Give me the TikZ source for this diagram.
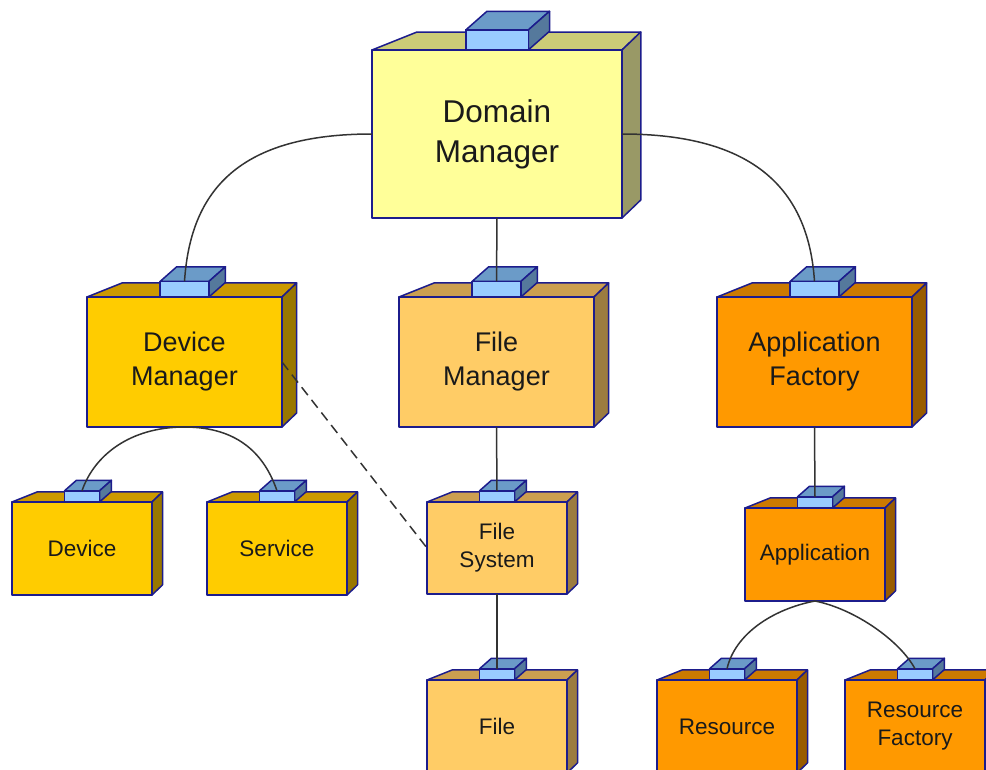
\documentclass[tikz,border=0pt]{standalone}
\usepackage{fontspec}
\setmainfont{Liberation Sans}
\usepackage{tikz}

\definecolor{outline}{HTML}{1C1C8C}
\definecolor{wire}{HTML}{333333}
\definecolor{ink}{HTML}{1A1A1A}
\definecolor{tabfront}{HTML}{99CCFF}
\definecolor{tabtop}{HTML}{6B9BC8}
\definecolor{tabside}{HTML}{55799C}
\definecolor{domfront}{HTML}{FFFF99}
\definecolor{domtop}{HTML}{CCCC77}
\definecolor{domside}{HTML}{999966}
\definecolor{devfront}{HTML}{FFCC00}
\definecolor{devtop}{HTML}{CC9900}
\definecolor{devside}{HTML}{997700}
\definecolor{filfront}{HTML}{FFCC66}
\definecolor{filtop}{HTML}{CC9F50}
\definecolor{filside}{HTML}{9C7C40}
\definecolor{appfront}{HTML}{FF9900}
\definecolor{apptop}{HTML}{CC7A00}
\definecolor{appside}{HTML}{995C00}

\tikzset{
  face/.style={draw=outline,line width=1.5pt,line join=round},
  link/.style={draw=wire,line width=1.5pt},
  dashlink/.style={link,dash pattern=on 10pt off 6pt}
}

% #1 name, #2 centre x, #3 top y, #4 width, #5 height,
% #6 colour prefix, #7 font size, #8 line skip, #9 text
\newcommand{\pkgbox}[9]{%
  \pgfmathsetmacro\pbl{#2-#4/2}
  \pgfmathsetmacro\pbr{#2+#4/2}
  \pgfmathsetmacro\pbb{#3+#5}
  \pgfmathsetmacro\pbdx{0.075*#4}
  \pgfmathsetmacro\pbdy{0.072*#4}
  \pgfmathsetmacro\pbs{0.18*#4}
  \pgfmathsetmacro\ptl{#2-0.125*#4}
  \pgfmathsetmacro\ptr{#2+0.125*#4}
  \pgfmathsetmacro\ptt{#3-0.08*#4}
  \pgfmathsetmacro\ptdx{0.085*#4}
  \pgfmathsetmacro\ptdy{0.075*#4}
  \filldraw[face,fill=#6top] (\pbl,#3) -- (\pbl+\pbs,#3-\pbdy) -- (\pbr+\pbdx,#3-\pbdy) -- (\pbr,#3) -- cycle;
  \filldraw[face,fill=#6side] (\pbr,#3) -- (\pbr+\pbdx,#3-\pbdy) -- (\pbr+\pbdx,\pbb-\pbdy) -- (\pbr,\pbb) -- cycle;
  \node[face,fill=#6front,inner sep=0pt,outer sep=0pt,minimum width=#4,minimum height=#5,
    align=center,text=ink,font=\fontsize{#7}{#8}\selectfont] (#1) at (#2,#3+#5/2) {#9};
  \filldraw[face,fill=tabtop] (\ptl,\ptt) -- (\ptl+\ptdx,\ptt-\ptdy) -- (\ptr+\ptdx,\ptt-\ptdy) -- (\ptr,\ptt) -- cycle;
  \filldraw[face,fill=tabside] (\ptr,\ptt) -- (\ptr+\ptdx,\ptt-\ptdy) -- (\ptr+\ptdx,#3-\ptdy) -- (\ptr,#3) -- cycle;
  \filldraw[face,fill=tabfront] (\ptl,\ptt) rectangle (\ptr,#3);
  \coordinate (#1-tab) at (#2,\ptt);
}

\begin{document}
\begin{tikzpicture}[x=1pt,y=-1pt]
	\useasboundingbox (0,0) rectangle (986,769);
	\fill[white] (0,0) rectangle (986,769);
	\clip (0,0) rectangle (986,769);

	% top level
	\pkgbox{domainmgr}{497}{50}{250}{168}{dom}{31.5}{40}{Domain\\Manager}

	% managers
	\pkgbox{devicemgr}{184.5}{297}{195}{130}{dev}{27}{34}{Device\\Manager}
	\pkgbox{filemgr}{496.5}{297}{195}{130}{fil}{27}{34}{File\\Manager}
	\pkgbox{appfactory}{814.5}{297}{195}{130}{app}{27}{34}{Application\\Factory}

	% lower levels
	\pkgbox{device}{82}{502}{140}{93}{dev}{22.5}{28}{Device}
	\pkgbox{service}{277}{502}{140}{93}{dev}{22.5}{28}{Service}
	\pkgbox{filesys}{497}{502}{140}{92}{fil}{22.5}{28}{File\\System}
	\pkgbox{file}{497}{680}{140}{93}{fil}{22.5}{28}{File}
	\pkgbox{application}{815}{508}{140}{93}{app}{22.5}{28}{Application}
	\pkgbox{resource}{727}{680}{140}{93}{app}{22.5}{28}{Resource}
	\pkgbox{resfactory}{915}{680}{140}{93}{app}{22.5}{28}{Resource\\Factory}

	% connectors
	\draw[link] (domainmgr.west) .. controls +(-132,0) and +(6,-92) .. (devicemgr-tab);
	\draw[link] (domainmgr.east) .. controls +(132,0) and +(-6,-92) .. (appfactory-tab);
	\draw[link] (domainmgr.south) -- (filemgr-tab);
	\draw[link] (devicemgr.south) .. controls +(-55,0) and +(12,-35) .. (device-tab);
	\draw[link] (devicemgr.south) .. controls +(55,0) and +(-12,-35) .. (service-tab);
	\draw[dashlink] (devicemgr.east) -- (filesys.west);
	\draw[link] (filemgr.south) -- (filesys-tab);
	\draw[link] (filesys.south) -- (file-tab);
	\draw[link] (appfactory.south) -- (application-tab);
	\draw[link] (application.south) .. controls +(-42,8) and +(8,-35) .. (resource-tab);
	\draw[link] (application.south) .. controls +(40,8) and +(-15,-28) .. (resfactory-tab);
\end{tikzpicture}
\end{document}
